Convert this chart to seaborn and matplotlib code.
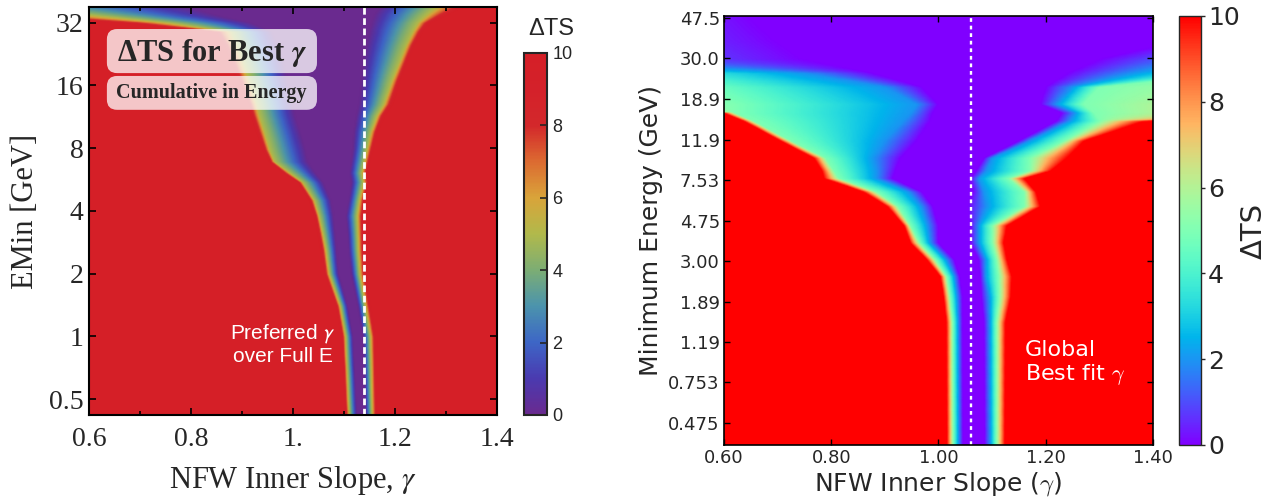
import numpy as np
import matplotlib
matplotlib.use("Agg")
import matplotlib.pyplot as plt
from matplotlib.patches import FancyBboxPatch
from matplotlib.ticker import NullLocator
import seaborn as sns

# ---------------- data ----------------
# each row: minimum energy (GeV) and the gamma values where dTS reaches
# given levels on the low side and on the high side of the valley
left_levels = [10, 5, 0, 0, 5, 10]
left_emin = [0.42, 1.0, 1.4, 2.0, 2.6, 3.1, 3.8, 4.5, 5.5, 6.1, 6.9, 7.9,
             9.6, 11.5, 13.0, 17.0, 22.0, 25.0, 29.0, 32.0, 35.0, 38.0]
left_lo10 = [1.103, 1.096, 1.085, 1.062, 1.056, 1.050, 1.043, 1.033, 1.010, 0.981, 0.955, 0.942,
             0.929, 0.918, 0.910, 0.890, 0.870, 0.860, 0.840, 0.660, 0.400, 0.200]
left_lo5 = [1.111, 1.104, 1.094, 1.072, 1.066, 1.060, 1.052, 1.043, 1.020, 0.995, 0.965, 0.955,
            0.945, 0.935, 0.930, 0.915, 0.900, 0.890, 0.880, 0.760, 0.600, 0.450]
left_lo0 = [1.126, 1.118, 1.108, 1.090, 1.086, 1.083, 1.080, 1.075, 1.060, 1.045, 1.030, 1.025,
            1.015, 1.005, 1.000, 0.990, 0.980, 0.970, 0.960, 0.920, 0.850, 0.800]
left_hi0 = [1.142, 1.138, 1.128, 1.115, 1.110, 1.108, 1.105, 1.110, 1.115, 1.112, 1.115, 1.118,
            1.120, 1.125, 1.130, 1.135, 1.140, 1.144, 1.150, 1.155, 1.160, 1.170]
left_hi5 = [1.155, 1.152, 1.142, 1.131, 1.128, 1.127, 1.126, 1.130, 1.138, 1.135, 1.140, 1.145,
            1.153, 1.165, 1.178, 1.195, 1.213, 1.222, 1.235, 1.245, 1.262, 1.280]
left_hi10 = [1.166, 1.163, 1.153, 1.143, 1.141, 1.140, 1.139, 1.142, 1.150, 1.147, 1.152, 1.158,
             1.167, 1.180, 1.195, 1.212, 1.230, 1.240, 1.255, 1.270, 1.305, 1.340]
left_best = 1.14

right_levels = [10, 5, 2, 0, 0, 2, 5, 10]
right_emin = [0.37, 1.5, 2.0, 2.52, 3.05, 3.7, 4.5, 5.6, 6.6, 7.7, 8.4, 9.7,
              11.8, 14.8, 16.2, 17.9, 21.8, 25.5, 30.0, 37.0, 48.6]
right_lo10 = [1.016, 1.015, 1.010, 1.004, 0.979, 0.948, 0.936, 0.905, 0.861, 0.787, 0.783, 0.768,
              0.706, 0.637, 0.600, -0.200, -1.000, -1.000, -2.000, -2.000, -2.000]
right_lo5 = [1.028, 1.027, 1.022, 1.016, 0.995, 0.965, 0.948, 0.925, 0.885, 0.815, 0.805, 0.790,
             0.725, 0.655, 0.620, 0.620, 0.550, 0.400, -0.500, -1.000, -1.000]
right_lo2 = [1.038, 1.037, 1.035, 1.030, 1.015, 0.985, 0.980, 0.968, 0.945, 0.885, 0.885, 0.880,
             0.900, 0.935, 0.950, 0.960, 0.900, 0.750, 0.300, 0.200, 0.200]
right_lo0 = [1.046, 1.045, 1.045, 1.040, 1.030, 1.000, 1.000, 0.990, 0.970, 0.915, 0.920, 0.930,
             0.960, 0.985, 0.990, 1.000, 0.970, 0.880, 0.750, 0.700, 0.650]
right_hi0 = [1.086, 1.085, 1.080, 1.078, 1.075, 1.060, 1.060, 1.055, 1.065, 1.060, 1.070, 1.085,
             1.150, 1.220, 1.230, 1.190, 1.200, 1.240, 1.300, 1.450, 1.500]
right_hi2 = [1.097, 1.096, 1.095, 1.088, 1.088, 1.075, 1.075, 1.090, 1.085, 1.075, 1.090, 1.100,
             1.170, 1.245, 1.255, 1.220, 1.250, 1.360, 1.500, 1.700, 1.800]
right_hi5 = [1.108, 1.108, 1.113, 1.112, 1.108, 1.100, 1.100, 1.160, 1.160, 1.130, 1.170, 1.170,
             1.235, 1.300, 1.290, 1.270, 1.300, 1.560, 2.400, 2.500, 2.500]
right_hi10 = [1.124, 1.125, 1.135, 1.137, 1.128, 1.122, 1.128, 1.190, 1.182, 1.160, 1.210, 1.240,
              1.272, 1.385, 1.900, 2.000, 2.500, 2.000, 3.400, 3.500, 3.000]
right_best = 1.06

left_yticks = [0.5, 1, 2, 4, 8, 16, 32]
left_ytick_labels = ["0.5", "1", "2", "4", "8", "16", "32"]
left_xticks = [0.6, 0.8, 1.0, 1.2, 1.4]
left_xtick_labels = ["0.6", "0.8", "1.", "1.2", "1.4"]
right_yticks = [0.475, 0.753, 1.19, 1.89, 3.00, 4.75, 7.53, 11.9, 18.9, 30.0, 47.5]
right_ytick_labels = ["0.475", "0.753", "1.19", "1.89", "3.00", "4.75", "7.53",
                      "11.9", "18.9", "30.0", "47.5"]
right_xticks = [0.6, 0.8, 1.0, 1.2, 1.4]
right_xtick_labels = ["0.60", "0.80", "1.00", "1.20", "1.40"]
cbar_ticks = [0, 2, 4, 6, 8, 10]

# colours of the left colour bar at dTS = 0, 1, ..., 10
left_colors = ["#6a2a8f", "#4a3ab0", "#3d66c6", "#4b93ad", "#7cad74", "#b1b94b",
               "#d9a43a", "#dc6b31", "#d3282b", "#d4212a", "#d51f27"]

gamma = np.linspace(0.6, 1.4, 401)


def build_field(emin, knots, levels, e_lo, e_hi, n_rows=400):
    # resample the row knots on a fine log-energy grid, then fill each row
    rows = np.geomspace(e_lo, e_hi, n_rows)
    cols = [np.interp(np.log(rows), np.log(emin), k) for k in knots]
    field = np.empty((n_rows, gamma.size))
    for i in range(n_rows):
        field[i] = np.interp(gamma, [c[i] for c in cols], levels)
    return rows, field


sns.set_style("ticks")
plt.rcParams["font.family"] = ["DejaVu Sans"]
plt.rcParams["axes.axisbelow"] = False

fig = plt.figure(figsize=(12.76, 5.04), dpi=100)

# ---------------- left panel ----------------
ax1 = fig.add_axes([0.0697, 0.1766, 0.3197, 0.8095])
rows1, field1 = build_field(left_emin, [left_lo10, left_lo5, left_lo0, left_hi0, left_hi5, left_hi10],
                            left_levels, 0.42, 38.0)
g1, e1 = np.meshgrid(gamma, rows1)
cmap1 = sns.blend_palette(left_colors, as_cmap=True)
mesh1 = ax1.pcolormesh(g1, e1, field1, cmap=cmap1, vmin=0, vmax=10, shading="gouraud", rasterized=True)
ax1.set_yscale("log")
ax1.set_xlim(0.6, 1.4)
ax1.set_ylim(0.42, 38.0)
ax1.axvline(left_best, color="white", lw=2.0, ls=(0, (2.4, 1.3)))

serif = "Liberation Serif"
ax1.set_yticks(left_yticks, labels=left_ytick_labels, fontsize=20, fontfamily=serif)
ax1.yaxis.set_minor_locator(NullLocator())
ax1.set_xticks(left_xticks, labels=left_xtick_labels, fontsize=20, fontfamily=serif)
ax1.set_xticks([0.7, 0.9, 1.1, 1.3], minor=True)
ax1.tick_params(which="both", direction="in", top=True, right=True, width=1.2, color="black")
ax1.tick_params(which="major", length=5)
ax1.tick_params(which="minor", length=3)
ax1.tick_params(axis="x", pad=9)
ax1.tick_params(axis="y", pad=4)
for sp in ax1.spines.values():
    sp.set_linewidth(1.5)
    sp.set_color("black")
ax1.set_xlabel("NFW Inner Slope, $\\gamma$", fontsize=22, fontfamily=serif,
               math_fontfamily="stix", labelpad=8)
ax1.set_ylabel("EMin [GeV]", fontsize=22, fontfamily=serif, labelpad=6)

# title boxes
for (y0, h) in [(0.838, 0.108), (0.748, 0.083)]:
    ax1.add_patch(FancyBboxPatch((0.044, y0), 0.515, h, transform=ax1.transAxes,
                                 boxstyle="round,pad=0,rounding_size=0.025",
                                 fc="white", ec="none", alpha=0.75, zorder=3))
ax1.text(0.301, 0.887, "ΔTS for Best $\\mathbfit{\\gamma}$", transform=ax1.transAxes,
         ha="center", va="center", fontsize=22, fontweight="bold", fontfamily=serif,
         math_fontfamily="stix", zorder=4)
ax1.text(0.301, 0.789, "Cumulative in Energy", transform=ax1.transAxes,
         ha="center", va="center", fontsize=14.5, fontweight="bold", fontfamily=serif, zorder=4)
ax1.text(0.475, 0.173, "Preferred $\\gamma$\nover Full E", transform=ax1.transAxes,
         ha="center", va="center", fontsize=15, color="white", fontfamily="Liberation Sans",
         math_fontfamily="stixsans", linespacing=1.1)

cax1 = fig.add_axes([0.4107, 0.1766, 0.018, 0.7183])
cb1 = fig.colorbar(mesh1, cax=cax1, ticks=cbar_ticks)
cb1.outline.set_linewidth(1.5)
cb1.ax.set_axisbelow(False)
cb1.ax.tick_params(direction="in", length=5, width=1.2, labelsize=13, pad=4)
for lab in cb1.ax.get_yticklabels():
    lab.set_fontfamily("Liberation Sans")
fig.text(0.4318, 0.942, "ΔTS", ha="center", va="center", fontsize=17, fontfamily="Liberation Sans")

# ---------------- right panel ----------------
ax2 = fig.add_axes([0.5674, 0.1171, 0.3362, 0.8512])
rows2, field2 = build_field(right_emin,
                            [right_lo10, right_lo5, right_lo2, right_lo0,
                             right_hi0, right_hi2, right_hi5, right_hi10],
                            right_levels, 0.37, 48.6)
g2, e2 = np.meshgrid(gamma, rows2)
cmap2 = sns.color_palette("rainbow", as_cmap=True)
mesh2 = ax2.pcolormesh(g2, e2, field2, cmap=cmap2, vmin=0, vmax=10, shading="gouraud", rasterized=True)
ax2.set_yscale("log")
ax2.set_xlim(0.6, 1.4)
ax2.set_ylim(0.37, 48.6)
ax2.axvline(right_best, color="white", lw=1.7, ls=(0, (1.6, 1.6)))

ax2.set_yticks(right_yticks, labels=right_ytick_labels, fontsize=13)
ax2.yaxis.set_minor_locator(NullLocator())
ax2.set_xticks(right_xticks, labels=right_xtick_labels, fontsize=13)
ax2.tick_params(direction="in", top=True, right=True, length=4, width=1, pad=3, color="black")
for sp in ax2.spines.values():
    sp.set_linewidth(1.2)
    sp.set_color("black")
ax2.set_xlabel("NFW Inner Slope ($\\gamma$)", fontsize=18, math_fontfamily="cm", labelpad=2)
ax2.set_ylabel("Minimum Energy (GeV)", fontsize=18, labelpad=4)
ax2.text(0.702, 0.19, "Global\nBest fit $\\gamma$", transform=ax2.transAxes,
         ha="left", va="center", fontsize=16, color="white", math_fontfamily="cm",
         linespacing=1.1)

cax2 = fig.add_axes([0.924, 0.1171, 0.01724, 0.8512])
cb2 = fig.colorbar(mesh2, cax=cax2, ticks=cbar_ticks)
cb2.outline.set_linewidth(1.0)
cb2.ax.tick_params(length=3, width=1, labelsize=18, pad=2)
cb2.set_label("ΔTS", fontsize=21, labelpad=0)

fig.savefig("out.png", dpi=100)
